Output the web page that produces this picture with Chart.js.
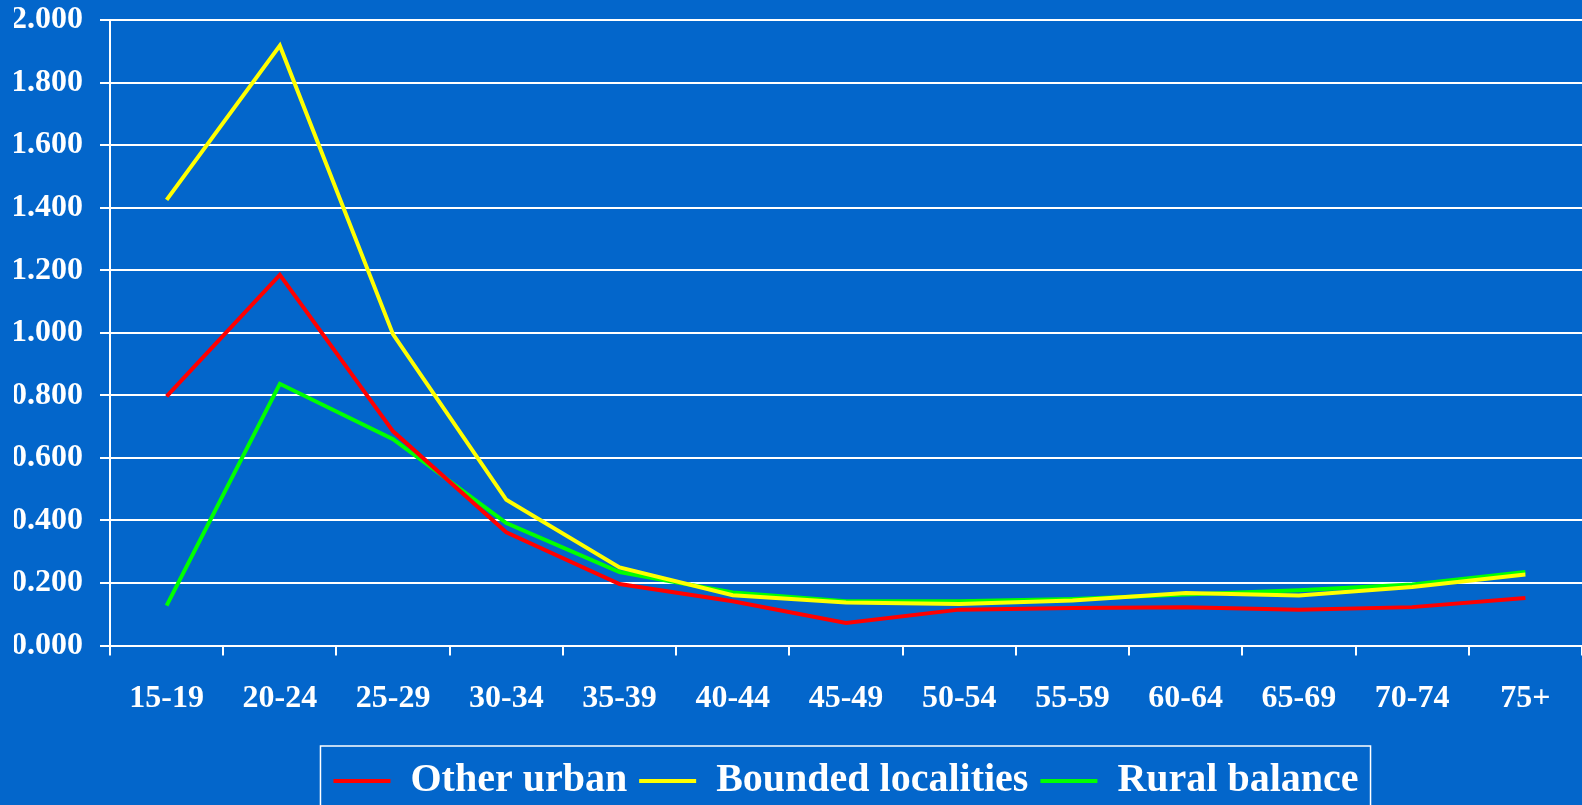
<!DOCTYPE html>
<html>
<head>
<meta charset="utf-8">
<script src="https://cdn.jsdelivr.net/npm/chart.js@4"></script>
<style>
  html, body { margin: 0; padding: 0; background: #0366CB; overflow: hidden; }
  #wrap { position: relative; width: 1582px; height: 811px; }
</style>
</head>
<body>
<div id="wrap"><canvas id="LineChart"></canvas></div>
<script>
const ctx = document.getElementById('LineChart');

let ageGroups = ['15-19', '20-24', '25-29', '30-34', '35-39', '40-44', '45-49', '50-54', '55-59', '60-64', '65-69', '70-74', '75+'];
let otherUrban = [0.797, 1.185, 0.685, 0.362, 0.197, 0.142, 0.072, 0.115, 0.120, 0.123, 0.115, 0.123, 0.152];
let boundedLocalities = [1.425, 1.918, 0.995, 0.466, 0.250, 0.161, 0.138, 0.133, 0.144, 0.168, 0.160, 0.187, 0.227];
let ruralBalance = [0.128, 0.837, 0.660, 0.392, 0.235, 0.170, 0.142, 0.142, 0.149, 0.163, 0.177, 0.195, 0.235];
let yTicks = [0, 0.2, 0.4, 0.6, 0.8, 1.0, 1.2, 1.4, 1.6, 1.8, 2.0];

const serif = '"Times New Roman", "Liberation Serif", serif';

// white frame round the legend, cut by the bottom of the page
const legendFrame = {
  id: 'legendFrame',
  afterDraw(chart) {
    const lg = chart.legend;
    if (!lg || !lg.legendHitBoxes.length) return;
    let boxes = lg.legendHitBoxes;
    let left = Math.min(...boxes.map(b => b.left)) - 13;
    let right = Math.max(...boxes.map(b => b.left + b.width)) + 12;
    let top = boxes[0].top - 15;
    let c = chart.ctx;
    c.save();
    c.strokeStyle = '#ffffff';
    c.lineWidth = 1.5;
    c.strokeRect(left, top, right - left, 200);
    c.restore();
  }
};

function createChart(element, labels) {
  new Chart(element, {
    type: 'line',
    data: {
      labels: labels,
      datasets: [
        { label: 'Other urban', data: otherUrban, borderColor: '#ff0000', backgroundColor: '#ff0000' },
        { label: 'Bounded localities', data: boundedLocalities, borderColor: '#ffff00', backgroundColor: '#ffff00' },
        { label: 'Rural balance', data: ruralBalance, borderColor: '#00ff00', backgroundColor: '#00ff00' }
      ]
    },
    options: {
      responsive: true,
      maintainAspectRatio: false,
      animation: false,
      elements: {
        line: { borderWidth: 4, tension: 0 },
        point: { radius: 0, hoverRadius: 0 }
      },
      layout: { padding: { left: 14, top: 0, right: 0, bottom: 0 } },
      scales: {
        x: {
          offset: true,
          afterFit: (s) => { s.paddingLeft = 0; s.paddingRight = 0; s.height += 7; },
          grid: { offset: true, drawOnChartArea: false, color: '#ffffff', lineWidth: 2, tickLength: 10 },
          border: { color: '#ffffff', width: 2 },
          ticks: { color: '#ffffff', padding: 24, maxRotation: 0, font: { family: serif, size: 32, weight: 'bold' } }
        },
        y: {
          min: 0,
          max: 2,
          afterBuildTicks: (axis) => { axis.ticks = yTicks.map(v => ({ value: v })); },
          afterFit: (s) => { s.paddingTop = 20; s.width = 96; },
          grid: { color: '#ffffff', lineWidth: 2, tickLength: 10 },
          border: { color: '#ffffff', width: 2 },
          ticks: {
            color: '#ffffff',
            padding: 17,
            font: { family: serif, size: 32, weight: 'bold' },
            callback: (v) => Number(v).toFixed(3)
          }
        }
      },
      plugins: {
        tooltip: { enabled: false },
        legend: {
          position: 'bottom',
          fullSize: false,
          labels: {
            color: '#ffffff',
            boxWidth: 57,
            boxHeight: 4,
            padding: 12,
            font: { family: serif, size: 40, weight: 'bold' },
            generateLabels: (chart) => Chart.defaults.plugins.legend.labels.generateLabels(chart).map(l => ({ ...l, lineWidth: 0 }))
          }
        }
      }
    },
    plugins: [legendFrame]
  });
}

createChart(ctx, ageGroups);
</script>
</body>
</html>
